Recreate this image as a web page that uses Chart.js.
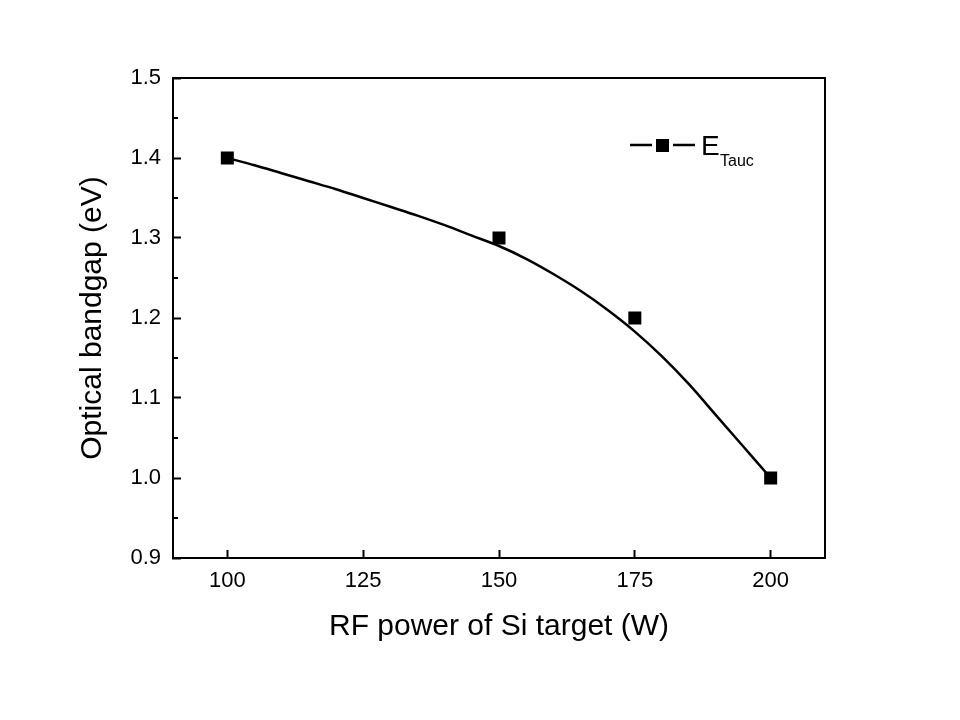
<!DOCTYPE html>
<html>
<head>
<meta charset="utf-8">
<script src="https://cdn.jsdelivr.net/npm/chart.js@4"></script>
<style>
  html, body { margin: 0; padding: 0; background: #fff; }
  #wrap { width: 960px; height: 720px; }
</style>
</head>
<body>
<div id="wrap"><canvas id="chart" width="960" height="720"></canvas></div>
<script>
// measured points
const power = [100, 150, 175, 200];
const bandgap = [1.40, 1.30, 1.20, 1.00];

// smooth fit curve
const fitX = [100, 105, 110, 115, 120, 125, 130, 135, 140, 145, 150, 155, 160, 165, 170, 175, 180, 185, 190, 195, 200];
const fitY = [1.400, 1.391, 1.381, 1.371, 1.361, 1.350, 1.339, 1.328, 1.316, 1.303, 1.290, 1.274, 1.255, 1.234, 1.210, 1.183, 1.152, 1.117, 1.078, 1.039, 1.000];

const xTicks = [100, 125, 150, 175, 200];
const yTicks = [0.9, 1.0, 1.1, 1.2, 1.3, 1.4, 1.5];
const yMinor = [0.95, 1.05, 1.15, 1.25, 1.35, 1.45];

const FONT = 'Arial, "Liberation Sans", sans-serif';

// frame, minor ticks and the legend with subscript
const extras = {
  id: 'extras',
  afterDraw(chart) {
    const { ctx, chartArea: a } = chart;
    const y = chart.scales.y;
    ctx.save();
    ctx.strokeStyle = '#000';
    ctx.lineWidth = 2;
    ctx.strokeRect(a.left, a.top, a.right - a.left, a.bottom - a.top);
    ctx.beginPath();
    yMinor.forEach(v => {
      const py = Math.round(y.getPixelForValue(v));
      ctx.moveTo(a.left, py);
      ctx.lineTo(a.left + 5, py);
    });
    ctx.stroke();

    // legend: line - square - line, then E with subscript
    const lx = 630, ly = 145;
    ctx.lineWidth = 2.5;
    ctx.beginPath();
    ctx.moveTo(lx, ly); ctx.lineTo(lx + 22, ly);
    ctx.moveTo(lx + 43, ly); ctx.lineTo(lx + 65, ly);
    ctx.stroke();
    ctx.fillStyle = '#000';
    ctx.fillRect(lx + 26, ly - 6, 13, 13);
    ctx.textBaseline = 'alphabetic';
    ctx.textAlign = 'left';
    ctx.font = '28px ' + FONT;
    ctx.fillText('E', 701, 155);
    ctx.font = '16px ' + FONT;
    ctx.fillText('Tauc', 720, 166);
    ctx.restore();
  }
};

new Chart(document.getElementById('chart'), {
  type: 'scatter',
  data: {
    datasets: [
      {
        label: 'fit',
        data: fitX.map((x, i) => ({ x, y: fitY[i] })),
        showLine: true,
        borderColor: '#000',
        borderWidth: 2.5,
        pointRadius: 0,
        cubicInterpolationMode: 'monotone',
        order: 2,
      },
      {
        label: 'E_Tauc',
        data: power.map((x, i) => ({ x, y: bandgap[i] })),
        showLine: false,
        pointStyle: 'rect',
        pointRadius: 9.2,
        pointBackgroundColor: '#000',
        pointBorderColor: '#000',
        pointBorderWidth: 0,
        order: 1,
      },
    ],
  },
  options: {
    responsive: false,
    animation: false,
    layout: { padding: { left: 0, top: 78, right: 135, bottom: 75 } },
    plugins: { legend: { display: false }, tooltip: { enabled: false } },
    scales: {
      x: {
        type: 'linear',
        min: 90, max: 210,
        afterBuildTicks: s => { s.ticks = xTicks.map(v => ({ value: v })); },
        afterFit: s => { s.height = 87; },
        grid: { drawOnChartArea: false, tickLength: -8, tickWidth: 2, color: '#000' },
        border: { display: true, color: '#000', width: 2 },
        ticks: { color: '#000', padding: 18, font: { family: FONT, size: 22 } },
        title: {
          display: true, text: 'RF power of Si target (W)', color: '#000',
          font: { family: FONT, size: 30 }, padding: { top: 0, bottom: 0 },
        },
      },
      y: {
        type: 'linear',
        min: 0.9, max: 1.5,
        afterBuildTicks: s => { s.ticks = yTicks.map(v => ({ value: v })); },
        afterFit: s => { s.width = 173; },
        grid: { drawOnChartArea: false, tickLength: -8, tickWidth: 2, color: '#000' },
        border: { display: true, color: '#000', width: 2 },
        ticks: {
          color: '#000', padding: 20, font: { family: FONT, size: 22 },
          callback: v => v.toFixed(1),
        },
        title: {
          display: true, text: 'Optical bandgap (eV)', color: '#000',
          font: { family: FONT, size: 30 }, padding: { top: 75, bottom: 0 },
        },
      },
    },
  },
  plugins: [extras],
});
</script>
</body>
</html>
